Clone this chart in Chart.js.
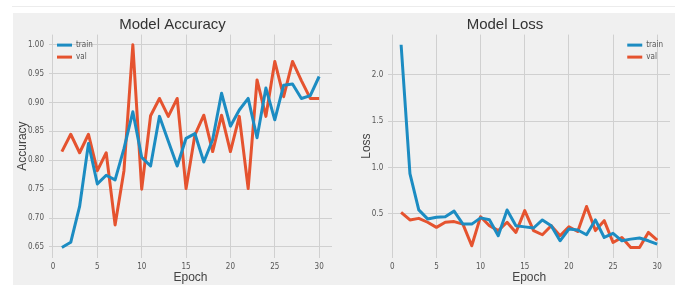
<!DOCTYPE html>
<html>
<head>
<meta charset="utf-8">
<script src="https://cdn.jsdelivr.net/npm/chart.js@4.4.0/dist/chart.umd.min.js"></script>
<style>
	html, body { margin: 0; padding: 0; background: #fff; }
	body { width: 681px; height: 285px; position: relative; overflow: hidden; }
	.rule { position: absolute; left: 12px; top: 6px; width: 663px; height: 1px; background: #ececec; }
	.panel { position: absolute; top: 13px; height: 272px; background: #f0f0f0; }
	#accBox { left: 13px; width: 327px; }
	#lossBox { left: 340px; width: 335px; }
</style>
</head>
<body>
<div class="rule"></div>
<div class="panel" id="accBox"><canvas id="acc"></canvas></div>
<div class="panel" id="lossBox"><canvas id="loss"></canvas></div>
<script>
'use strict';

// values, epochs 1..30
var epochs = [1, 2, 3, 4, 5, 6, 7, 8, 9, 10, 11, 12, 13, 14, 15,
	16, 17, 18, 19, 20, 21, 22, 23, 24, 25, 26, 27, 28, 29, 30];

var accTrain = [0.649, 0.658, 0.72, 0.829, 0.759, 0.774, 0.766, 0.82, 0.884, 0.805,
	0.79, 0.876, 0.833, 0.79, 0.838, 0.846, 0.797, 0.836, 0.916, 0.859,
	0.887, 0.907, 0.839, 0.925, 0.87, 0.93, 0.932, 0.907, 0.912, 0.945];
var accVal = [0.815, 0.845, 0.813, 0.845, 0.782, 0.813, 0.688, 0.782, 1.0, 0.75,
	0.877, 0.907, 0.876, 0.907, 0.751, 0.844, 0.878, 0.815, 0.878, 0.815,
	0.876, 0.751, 0.939, 0.876, 0.971, 0.91, 0.971, 0.938, 0.907, 0.907];

var lossTrain = [2.325, 0.934, 0.543, 0.446, 0.464, 0.47, 0.53, 0.39, 0.39, 0.457,
	0.437, 0.265, 0.543, 0.373, 0.36, 0.348, 0.435, 0.373, 0.21, 0.337,
	0.326, 0.275, 0.435, 0.246, 0.29, 0.21, 0.228, 0.24, 0.21, 0.175];
var lossVal = [0.517, 0.435, 0.452, 0.41, 0.355, 0.41, 0.417, 0.39, 0.156, 0.47,
	0.373, 0.32, 0.41, 0.30, 0.536, 0.32, 0.275, 0.373, 0.265, 0.362,
	0.31, 0.58, 0.32, 0.427, 0.192, 0.246, 0.138, 0.138, 0.30, 0.218];

var epochTicks = [0, 5, 10, 15, 20, 25, 30];
var accTicks = [0.65, 0.70, 0.75, 0.80, 0.85, 0.90, 0.95, 1.00];
var lossTicks = [0.5, 1.0, 1.5, 2.0];

var seriesNames = ['train', 'val'];
var seriesColors = ['#1c8cc2', '#e5532f'];

var narrow = '"Liberation Sans Narrow", "DejaVu Sans Condensed", "Liberation Sans", sans-serif';
var sans = '"Liberation Sans", Arial, sans-serif';

function points(ys) {
	return ys.map(function (y, i) {
		return { x: epochs[i], y: y };
	});
}

// matplotlib style 5% padding around the data
function padded(lists) {
	var all = [].concat.apply([], lists),
		lo = Math.min.apply(null, all),
		hi = Math.max.apply(null, all),
		m = (hi - lo) * 0.05;
	return { min: lo - m, max: hi + m };
}

function fixedTicks(list) {
	return function (scale) {
		scale.ticks = list.map(function (v) {
			return { value: v };
		});
	};
}

// legend drawn inside the plot, like plt.legend(loc=...)
var cornerLegend = {
	id: 'cornerLegend',
	afterDatasetsDraw: function (chart, args, opts) {
		var ctx = chart.ctx,
			area = chart.chartArea,
			handle = 15,
			gap = 4,
			rowH = 12,
			textW = 0,
			x0,
			y0 = area.top + 10.5;

		ctx.save();
		ctx.font = '8px ' + narrow;
		chart.data.datasets.forEach(function (ds) {
			textW = Math.max(textW, ctx.measureText(ds.label).width);
		});
		x0 = opts.side === 'right' ?
			area.right - 7 - (handle + gap + textW) :
			area.left + 8;

		chart.data.datasets.forEach(function (ds, i) {
			var y = y0 + i * rowH;
			ctx.strokeStyle = ds.borderColor;
			ctx.lineWidth = 3;
			ctx.beginPath();
			ctx.moveTo(x0, y);
			ctx.lineTo(x0 + handle, y);
			ctx.stroke();
			ctx.fillStyle = '#555';
			ctx.textBaseline = 'middle';
			ctx.textAlign = 'left';
			ctx.fillText(ds.label, x0 + handle + gap, y);
		});
		ctx.restore();
	}
};

function makeChart(id, opts) {
	var yr = padded(opts.series);

	return new Chart(document.getElementById(id), {
		type: 'line',
		data: {
			datasets: opts.series.map(function (ys, i) {
				return {
					label: seriesNames[i],
					data: points(ys),
					borderColor: seriesColors[i],
					borderWidth: 3,
					borderJoinStyle: 'round',
					pointRadius: 0,
					tension: 0,
					fill: false
				};
			})
		},
		options: {
			responsive: true,
			maintainAspectRatio: false,
			animation: false,
			events: [],
			layout: { padding: { right: opts.padRight } },
			plugins: {
				legend: { display: false },
				tooltip: { enabled: false },
				title: {
					display: true,
					text: opts.title,
					color: '#333',
					font: { family: sans, size: 15, weight: 'normal' },
					padding: { top: 3, bottom: 0.6 }
				},
				cornerLegend: { side: opts.legendSide }
			},
			scales: {
				x: {
					type: 'linear',
					min: 1 - 29 * 0.05,
					max: 30 + 29 * 0.05,
					afterBuildTicks: fixedTicks(epochTicks),
					afterFit: function (scale) { scale.height = 27.4; },
					border: { display: false },
					grid: { color: '#d0d0d0', lineWidth: 1, drawTicks: false },
					ticks: {
						color: '#555',
						padding: 5,
						maxRotation: 0,
						font: { family: narrow, size: 8 },
						callback: function (v) { return String(v); }
					},
					title: {
						display: true,
						text: 'Epoch',
						color: '#444',
						font: { family: sans, size: 12 },
						padding: { top: 0, bottom: 0 }
					}
				},
				y: {
					min: yr.min,
					max: yr.max,
					afterBuildTicks: fixedTicks(opts.yTicks),
					afterFit: function (scale) { scale.width = opts.yWidth; },
					border: { display: false },
					grid: { color: '#d0d0d0', lineWidth: 1, drawTicks: false },
					ticks: {
						color: '#555',
						padding: 5,
						font: { family: narrow, size: 8 },
						callback: function (v) { return v.toFixed(opts.digits); }
					},
					title: {
						display: true,
						text: opts.yLabel,
						color: '#444',
						font: { family: sans, size: 12 },
						padding: { top: opts.yTitlePad, bottom: 0 }
					}
				}
			}
		},
		plugins: [cornerLegend]
	});
}

makeChart('acc', {
	title: 'Model Accuracy',
	yLabel: 'Accuracy',
	series: [accTrain, accVal],
	yTicks: accTicks,
	digits: 2,
	yWidth: 36,
	yTitlePad: 2.8,
	padRight: 8,
	legendSide: 'left'
});

makeChart('loss', {
	title: 'Model Loss',
	yLabel: 'Loss',
	series: [lossTrain, lossVal],
	yTicks: lossTicks,
	digits: 1,
	yWidth: 48.3,
	yTitlePad: 19.8,
	padRight: 5,
	legendSide: 'right'
});
</script>
</body>
</html>
